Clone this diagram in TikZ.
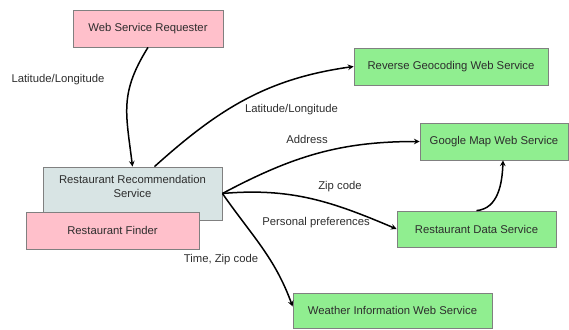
\documentclass[tikz,border=0pt]{standalone}
\usepackage{fontspec}
\setmainfont{Liberation Sans}
\usetikzlibrary{shapes,arrows,positioning,calc}
\definecolor{reqpink}{RGB}{255,192,203}
\definecolor{svcgreen}{RGB}{144,238,144}
\definecolor{rrsgray}{RGB}{216,228,228}
\definecolor{edgegray}{RGB}{128,128,128}
\definecolor{txtgray}{RGB}{45,45,45}

\begin{document}
\begin{tikzpicture}[
    x=1pt, y=1pt,
    box/.style={rectangle, draw=edgegray, fill=svcgreen, line width=0.8pt, minimum height=37pt, inner sep=0pt, align=center, text=txtgray, font=\fontsize{11.3}{14}\selectfont},
    arrow/.style={->, line width=1.5pt, >=stealth},
    lbl/.style={text=txtgray, font=\fontsize{11.3}{14}\selectfont}
]
\useasboundingbox (0,0) rectangle (569,329);

\node[box, fill=reqpink, minimum width=150pt] (req) at (148,300.5) {Web Service Requester};
\node[box, fill=rrsgray, minimum width=179pt, minimum height=53pt, text depth=14pt] (rrs) at (132.5,135.5) {Restaurant Recommendation\\Service};
\node[box, fill=reqpink, minimum width=173pt] (finder) at (112.5,98.5) {Restaurant Finder};
\node[box, minimum width=194pt] (geo) at (451,262.5) {Reverse Geocoding Web Service};
\node[box, minimum width=148pt] (gmap) at (494,187.5) {Google Map Web Service};
\node[box, minimum width=159pt, minimum height=36pt] (data) at (476.5,100) {Restaurant Data Service};
\node[box, minimum width=199pt, minimum height=35pt] (weather) at (392.5,18.5) {Weather Information Web Service};

% requester asks the recommender
\draw[arrow] (req.south) to[out=-122, in=97, looseness=1.15] (rrs.north);
\node[lbl] at (58,249) {Latitude/Longitude};

% recommender calls the services
\draw[arrow] ([xshift=22pt]rrs.north) to[out=42, in=188] (geo.west);
\draw[arrow] (rrs.east) to[out=28, in=180] (gmap.west);
\draw[arrow] (rrs.east) to[out=5, in=157] (data.west);
\draw[arrow] (rrs.east) to[out=-55, in=110] ([yshift=4pt]weather.west);
\draw[arrow] (data.north) to[out=5, in=-92] ([xshift=9pt]gmap.south);

\node[lbl] at (291.5,219) {Latitude/Longitude};
\node[lbl] at (307,190) {Address};
\node[lbl] at (340,142) {Zip code};
\node[lbl] at (316,106) {Personal preferences};
\node[lbl] at (221,69) {Time, Zip code};

\end{tikzpicture}
\end{document}
